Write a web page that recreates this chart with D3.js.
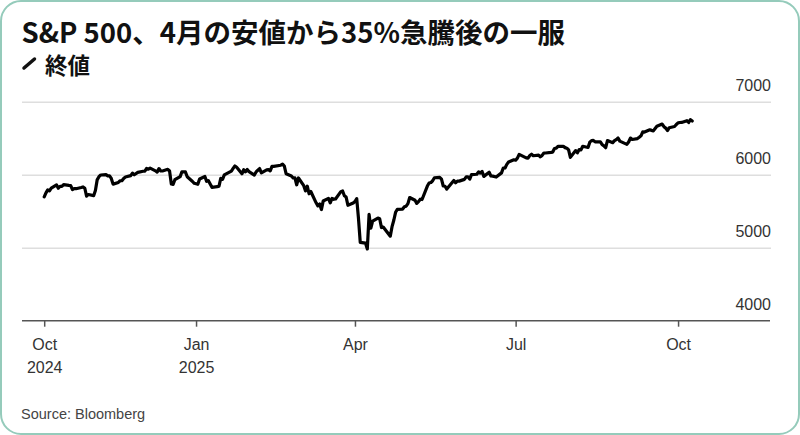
<!DOCTYPE html>
<html>
<head>
<meta charset="utf-8">
<script src="https://cdn.jsdelivr.net/npm/d3@7"></script>
<style>
  html, body { margin: 0; padding: 0; background: #fff; }
  svg { display: block; }
</style>
</head>
<body>
<div id="chart"></div>
<script>
// ---- Data (S&P 500 daily close) ----
const dates = (
  "2024-10-07 2024-10-08 2024-10-09 2024-10-10 2024-10-11 2024-10-14 2024-10-15 2024-10-16 2024-10-17 2024-10-18 2024-10-21 2024-10-22 2024-10-23 2024-10-24 2024-10-25 2024-10-28 2024-10-29 2024-10-30 2024-10-31 " +
  "2024-11-01 2024-11-04 2024-11-05 2024-11-06 2024-11-07 2024-11-08 2024-11-11 2024-11-12 2024-11-13 2024-11-14 2024-11-15 2024-11-18 2024-11-19 2024-11-20 2024-11-21 2024-11-22 2024-11-25 2024-11-26 2024-11-27 2024-11-29 " +
  "2024-12-02 2024-12-03 2024-12-04 2024-12-05 2024-12-06 2024-12-09 2024-12-10 2024-12-11 2024-12-12 2024-12-13 2024-12-16 2024-12-17 2024-12-18 2024-12-19 2024-12-20 2024-12-23 2024-12-24 2024-12-26 2024-12-27 2024-12-30 2024-12-31 " +
  "2025-01-02 2025-01-03 2025-01-06 2025-01-07 2025-01-08 2025-01-10 2025-01-13 2025-01-14 2025-01-15 2025-01-16 2025-01-17 2025-01-21 2025-01-22 2025-01-23 2025-01-24 2025-01-27 2025-01-28 2025-01-29 2025-01-30 2025-01-31 " +
  "2025-02-03 2025-02-04 2025-02-05 2025-02-06 2025-02-07 2025-02-10 2025-02-11 2025-02-12 2025-02-13 2025-02-14 2025-02-18 2025-02-19 2025-02-20 2025-02-21 2025-02-24 2025-02-25 2025-02-26 2025-02-27 2025-02-28 " +
  "2025-03-03 2025-03-04 2025-03-05 2025-03-06 2025-03-07 2025-03-10 2025-03-11 2025-03-12 2025-03-13 2025-03-14 2025-03-17 2025-03-18 2025-03-19 2025-03-20 2025-03-21 2025-03-24 2025-03-25 2025-03-26 2025-03-27 2025-03-28 2025-03-31 " +
  "2025-04-01 2025-04-02 2025-04-03 2025-04-04 2025-04-07 2025-04-08 2025-04-09 2025-04-10 2025-04-11 2025-04-14 2025-04-15 2025-04-16 2025-04-17 2025-04-21 2025-04-22 2025-04-23 2025-04-24 2025-04-25 2025-04-28 2025-04-29 2025-04-30 " +
  "2025-05-01 2025-05-02 2025-05-05 2025-05-06 2025-05-07 2025-05-08 2025-05-09 2025-05-12 2025-05-13 2025-05-14 2025-05-15 2025-05-16 2025-05-19 2025-05-20 2025-05-21 2025-05-22 2025-05-23 2025-05-27 2025-05-28 2025-05-29 2025-05-30 " +
  "2025-06-02 2025-06-03 2025-06-04 2025-06-05 2025-06-06 2025-06-09 2025-06-10 2025-06-11 2025-06-12 2025-06-13 2025-06-16 2025-06-17 2025-06-18 2025-06-20 2025-06-23 2025-06-24 2025-06-25 2025-06-26 2025-06-27 2025-06-30 " +
  "2025-07-01 2025-07-02 2025-07-03 2025-07-07 2025-07-08 2025-07-09 2025-07-10 2025-07-11 2025-07-14 2025-07-15 2025-07-16 2025-07-17 2025-07-18 2025-07-21 2025-07-22 2025-07-23 2025-07-24 2025-07-25 2025-07-28 2025-07-29 2025-07-30 2025-07-31 " +
  "2025-08-01 2025-08-04 2025-08-05 2025-08-06 2025-08-07 2025-08-08 2025-08-11 2025-08-12 2025-08-13 2025-08-14 2025-08-15 2025-08-18 2025-08-19 2025-08-20 2025-08-21 2025-08-22 2025-08-25 2025-08-26 2025-08-27 2025-08-28 2025-08-29 " +
  "2025-09-02 2025-09-03 2025-09-04 2025-09-05 2025-09-08 2025-09-09 2025-09-10 2025-09-11 2025-09-12 2025-09-15 2025-09-16 2025-09-17 2025-09-18 2025-09-19 2025-09-22 2025-09-23 2025-09-24 2025-09-25 2025-09-26 2025-09-29 2025-09-30 " +
  "2025-10-01 2025-10-02 2025-10-03 2025-10-06 2025-10-07 2025-10-08 2025-10-09"
).split(" ");

const closes = [
  5696,5751,5792,5780,5815,5860,5815,5842,5841,5865,5854,5851,5797,5810,5808,5824,5833,5814,5705,
  5729,5713,5783,5929,5973,5996,6001,5984,5985,5949,5871,5894,5917,5917,5949,5969,5987,6022,5999,6032,
  6047,6050,6086,6075,6090,6053,6035,6084,6051,6051,6074,6051,5872,5867,5931,5974,6040,6038,5971,5907,5882,
  5869,5942,5975,5909,5918,5827,5836,5843,5950,5937,5997,6049,6086,6119,6101,6012,6068,6039,6071,6041,
  5995,6038,6061,6084,6026,6066,6069,6052,6115,6115,6130,6144,6118,6013,5983,5955,5956,5862,5955,
  5850,5778,5843,5739,5770,5615,5572,5599,5522,5639,5675,5615,5675,5663,5668,5768,5777,5712,5693,5581,5612,
  5633,5671,5397,5074,5062,4983,5457,5268,5363,5406,5397,5276,5283,5158,5288,5376,5485,5525,5529,5561,5569,
  5604,5687,5650,5607,5631,5664,5660,5844,5887,5893,5917,5958,5964,5940,5845,5842,5803,5922,5889,5912,5912,
  5936,5970,5971,5939,6000,6006,6039,6022,6045,5977,6033,5983,5981,5968,6025,6092,6092,6141,6173,6205,
  6198,6227,6279,6230,6226,6263,6280,6260,6269,6244,6264,6297,6297,6306,6310,6359,6363,6389,6390,6371,6363,6339,
  6238,6330,6299,6345,6340,6389,6373,6446,6467,6469,6450,6449,6411,6396,6370,6467,6439,6466,6481,6502,6460,
  6416,6448,6502,6482,6495,6513,6532,6587,6584,6615,6607,6600,6632,6664,6694,6657,6638,6605,6644,6661,6688,
  6711,6715,6716,6740,6715,6754,6735
];

const yTicks = [4000, 5000, 6000, 7000];
const xTickDates = ["2024-10-07", "2025-01-01", "2025-04-01", "2025-07-01", "2025-10-01"];
const xTickMonths = ["Oct", "Jan", "Apr", "Jul", "Oct"];
const xTickYears = ["2024", "2025", "", "", ""];

const titleText = "S&P 500、4月の安値から35%急騰後の一服";
const legendText = "終値";
const sourceText = "Source: Bloomberg";

// ---- Chart ----
const W = 800, H = 435;
const parse = d3.utcParse("%Y-%m-%d");
const data = dates.map((d, i) => ({ date: parse(d), close: closes[i] }));

const svg = d3.select("#chart").append("svg")
  .attr("width", W).attr("height", H);

svg.append("rect")
  .attr("x", 1).attr("y", 1).attr("width", W - 2).attr("height", H - 2)
  .attr("rx", 20).attr("ry", 20)
  .attr("fill", "#fff").attr("stroke", "#95cbbb").attr("stroke-width", 2);

const x = d3.scaleUtc()
  .domain([parse(dates[0]), parse(dates[dates.length - 1])])
  .range([44.2, 692.2]);
const y = d3.scaleLinear().domain([4000, 7000]).range([320.7, 101.7]);

const gridLeft = 22, gridRight = 771;
const sansFont = "'Liberation Sans', Arial, Helvetica, sans-serif";

// Y axis with gridlines
const yAxis = svg.append("g")
  .attr("transform", `translate(${gridRight},0)`)
  .call(d3.axisLeft(y).tickValues(yTicks).tickSize(gridRight - gridLeft).tickFormat(d3.format("d")));
yAxis.select(".domain").remove();
yAxis.selectAll(".tick line")
  .attr("stroke", d => d === 4000 ? "none" : "#dedede")
  .attr("stroke-width", 1.5);
yAxis.selectAll(".tick text")
  .attr("x", 0).attr("dy", -11)
  .attr("text-anchor", "end")
  .attr("fill", "#333")
  .style("font-family", sansFont)
  .style("font-size", "16px");

// X axis
svg.append("line")
  .attr("x1", gridLeft).attr("x2", 770)
  .attr("y1", y(4000)).attr("y2", y(4000))
  .attr("stroke", "#555").attr("stroke-width", 1.5);

const xAxis = svg.append("g")
  .attr("transform", `translate(0,${y(4000)})`)
  .call(d3.axisBottom(x).tickValues(xTickDates.map(parse)).tickSize(6).tickSizeOuter(0).tickFormat(""));
xAxis.select(".domain").remove();
xAxis.selectAll(".tick line").attr("stroke", "#555").attr("stroke-width", 1.5);
xAxis.selectAll(".tick text").each(function (d, i) {
  const t = d3.select(this)
    .attr("y", 0).attr("dy", null)
    .attr("fill", "#333")
    .style("font-family", sansFont)
    .style("font-size", "16px");
  t.text(null);
  t.append("tspan").attr("x", 0).attr("y", 29.5).text(xTickMonths[i]);
  if (xTickYears[i]) t.append("tspan").attr("x", 0).attr("y", 52).text(xTickYears[i]);
});

// Line
svg.append("path")
  .datum(data)
  .attr("fill", "none")
  .attr("stroke", "#000")
  .attr("stroke-width", 3.2)
  .attr("stroke-linejoin", "round")
  .attr("stroke-linecap", "round")
  .attr("d", d3.line().x(d => x(d.date)).y(d => y(d.close)));

// Title
const cjkFont = "'Noto Sans CJK JP', 'Noto Sans', sans-serif";
svg.append("text")
  .attr("x", 21.5).attr("y", 43)
  .attr("fill", "#111")
  .style("font-family", cjkFont)
  .style("font-weight", 700)
  .style("font-size", "27.5px")
  .text(titleText);

// Legend
svg.append("line")
  .attr("x1", 24).attr("y1", 68).attr("x2", 34.5).attr("y2", 59)
  .attr("stroke", "#111").attr("stroke-width", 3.5).attr("stroke-linecap", "round");
svg.append("text")
  .attr("x", 45).attr("y", 73.5)
  .attr("fill", "#111")
  .style("font-family", cjkFont)
  .style("font-weight", 700)
  .style("font-size", "22.5px")
  .text(legendText);

// Source
svg.append("text")
  .attr("x", 21).attr("y", 419)
  .attr("fill", "#444")
  .style("font-family", sansFont)
  .style("font-size", "14.5px")
  .text(sourceText);
</script>
</body>
</html>
